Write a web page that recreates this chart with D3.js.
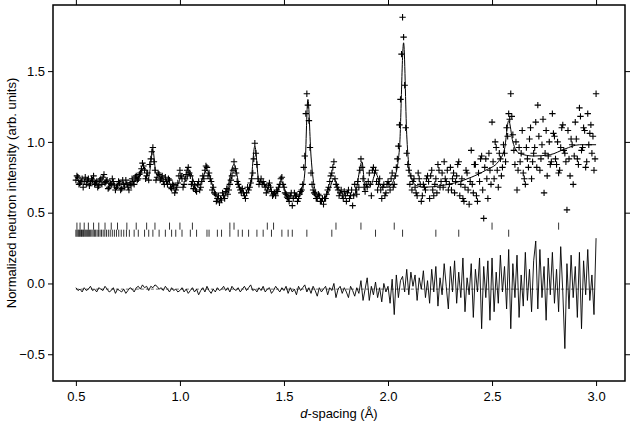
<!DOCTYPE html>
<html><head><meta charset="utf-8">
<script src="https://d3js.org/d3.v7.min.js"></script>
<style>body{margin:0;background:#fff}text{font-family:"Liberation Sans",Arial,sans-serif}</style>
</head><body><svg id="c" width="640" height="427"></svg>
<script>
const xTicks=[0.5,1.0,1.5,2.0,2.5,3.0];
const yTicks=[-0.5,0.0,0.5,1.0,1.5];
// observed, d = 0.50..3.00 step 0.01
const obsA=[0.73,0.75,0.71,0.74,0.72,0.70,0.74,0.71,0.73,0.70,
0.72,0.69,0.74,0.75,0.71,0.73,0.68,0.70,0.72,0.66,
0.69,0.71,0.67,0.70,0.73,0.68,0.71,0.74,0.70,0.76,
0.74,0.78,0.85,0.80,0.76,0.73,0.88,0.96,0.80,0.75,
0.77,0.74,0.72,0.75,0.70,0.73,0.67,0.69,0.66,0.71,
0.80,0.74,0.70,0.77,0.82,0.76,0.72,0.69,0.65,0.72,
0.68,0.76,0.80,0.82,0.78,0.72,0.68,0.63,0.60,0.57,
0.59,0.62,0.65,0.63,0.70,0.76,0.86,0.78,0.70,0.66,
0.67,0.62,0.64,0.66,0.71,0.78,0.99,0.84,0.70,0.74,
0.72,0.68,0.66,0.71,0.65,0.63,0.62,0.65,0.70,0.75,
0.68,0.63,0.60,0.62,0.55,0.64,0.62,0.60,0.65,0.70,
0.90,1.34,1.15,0.78,0.66,0.63,0.60,0.62,0.58,0.56,
0.60,0.66,0.72,0.78,0.86,0.70,0.66,0.64,0.62,0.65,
0.58,0.66,0.62,0.55,0.70,0.63,0.68,0.88,0.74,0.65,
0.68,0.78,0.62,0.82,0.80,0.66,0.74,0.60,0.70,0.64,
0.72,0.66,0.78,0.70,0.82,0.97,1.30,1.88,1.40,0.92,
0.80,0.76,0.72,0.68,0.62,0.74,0.58,0.70,0.66,0.76,
0.60,0.80,0.62,0.74,0.84,0.68,0.78,0.86,0.72,0.66,
0.82,0.74,0.64,0.76,0.86,0.70,0.60,0.68,0.78,0.56,
0.94,0.64,0.84,0.58,0.72,0.90,0.46,0.88,0.60,0.80,
1.14,0.74,0.96,0.68,0.88,0.82,0.92,1.10,1.20,1.34,
1.05,0.84,0.66,0.96,0.92,0.78,0.70,0.88,1.02,0.74,
0.92,1.14,1.26,0.80,0.98,0.64,1.08,0.90,0.84,1.20,
1.04,0.84,0.78,0.96,1.12,0.92,0.52,0.88,1.02,0.70,
1.14,0.88,1.24,0.94,1.10,0.82,1.20,1.06,0.92,0.80,
1.34];
// observed, d = 0.505..2.095 step 0.01
const obsC=[0.76,0.70,0.72,0.68,0.75,0.73,0.69,0.74,0.76,0.71,
0.68,0.73,0.70,0.77,0.72,0.67,0.71,0.74,0.69,0.68,
0.72,0.66,0.73,0.68,0.70,0.66,0.69,0.72,0.75,0.73,
0.77,0.81,0.83,0.74,0.78,0.84,0.93,0.86,0.73,0.78,
0.73,0.76,0.70,0.72,0.74,0.68,0.70,0.64,0.68,0.76,
0.76,0.68,0.74,0.80,0.78,0.70,0.67,0.66,0.70,0.66,
0.72,0.74,0.83,0.76,0.74,0.66,0.64,0.58,0.62,0.60,
0.64,0.60,0.67,0.66,0.73,0.80,0.81,0.72,0.68,0.64,
0.64,0.60,0.68,0.68,0.74,0.88,0.92,0.74,0.72,0.70,
0.70,0.64,0.69,0.68,0.62,0.64,0.66,0.68,0.74,0.70,
0.64,0.61,0.58,0.64,0.60,0.62,0.58,0.63,0.66,0.82,
1.20,1.26,0.96,0.70,0.64,0.60,0.63,0.58,0.60,0.60,
0.63,0.68,0.76,0.82,0.74,0.68,0.62,0.66,0.60,0.62,
0.64,0.60,0.66,0.62,0.66,0.72,0.80,0.82,0.68,0.70,
0.72,0.70,0.80,0.78,0.72,0.70,0.66,0.68,0.62,0.70,
0.70,0.74,0.68,0.76,0.88,1.12,1.62,1.74,1.10,0.84];
// observed, d = 2.105..2.995 step 0.01
const obsB=[0.70,0.66,0.74,0.64,0.78,0.70,0.62,0.68,0.74,0.72,
0.76,0.66,0.70,0.64,0.80,0.72,0.68,0.74,0.80,0.70,
0.66,0.78,0.72,0.84,0.62,0.74,0.58,0.80,0.66,0.72,
0.70,0.84,0.62,0.78,0.88,0.66,0.82,0.74,0.92,0.70,
0.86,1.00,0.80,0.92,0.76,0.98,0.86,1.04,1.16,1.18,
0.94,1.00,0.80,0.86,1.08,0.74,0.96,0.82,1.10,0.86,
0.96,0.82,1.04,0.88,1.16,0.92,0.76,1.00,0.86,1.06,
0.88,1.00,0.80,1.10,0.94,0.86,1.08,0.76,0.98,0.90,
1.02,0.84,1.18,0.96,1.08,0.86,0.98,1.12,1.04,0.88];
// calculated curve [d, intensity]
const calc=[[0.50,0.73],[0.55,0.72],[0.60,0.72],[0.65,0.71],[0.70,0.70],[0.75,0.71],[0.80,0.74],[0.83,0.82],[0.85,0.76],[0.87,0.94],[0.885,0.78],[0.92,0.74],[0.96,0.70],[0.99,0.70],[1.01,0.78],[1.03,0.72],[1.045,0.80],[1.07,0.71],[1.09,0.69],[1.13,0.80],[1.16,0.68],[1.19,0.59],[1.22,0.63],[1.26,0.84],[1.29,0.67],[1.32,0.64],[1.34,0.70],[1.36,0.97],[1.38,0.72],[1.40,0.71],[1.43,0.66],[1.46,0.63],[1.49,0.72],[1.51,0.64],[1.54,0.61],[1.58,0.62],[1.60,0.78],[1.615,1.30],[1.63,0.90],[1.65,0.66],[1.68,0.60],[1.71,0.63],[1.74,0.74],[1.77,0.65],[1.80,0.62],[1.84,0.63],[1.875,0.86],[1.89,0.68],[1.92,0.70],[1.94,0.78],[1.97,0.68],[2.00,0.68],[2.03,0.74],[2.055,0.95],[2.075,1.70],[2.09,1.05],[2.11,0.75],[2.14,0.69],[2.18,0.68],[2.25,0.69],[2.32,0.71],[2.40,0.75],[2.47,0.80],[2.53,0.86],[2.56,0.95],[2.58,1.15],[2.60,1.00],[2.63,0.92],[2.70,0.90],[2.78,0.91],[2.85,0.95],[2.92,0.98],[3.00,0.98]];
// difference curve, d = 0.50..3.00 step 0.01
const diff=[-0.03,-0.05,-0.04,-0.06,-0.03,-0.05,-0.04,-0.02,-0.05,-0.04,
-0.06,-0.03,-0.04,-0.05,-0.02,-0.04,-0.06,-0.05,-0.03,-0.07,
-0.04,-0.05,-0.06,-0.04,-0.07,-0.05,-0.03,-0.04,-0.06,-0.03,
-0.02,-0.04,-0.01,-0.03,-0.02,-0.05,-0.02,-0.03,-0.01,-0.02,
-0.04,-0.03,-0.05,-0.02,-0.04,-0.06,-0.03,-0.05,-0.04,-0.06,
-0.05,-0.03,-0.06,-0.04,-0.07,-0.05,-0.03,-0.06,-0.04,-0.08,
-0.05,-0.03,-0.06,-0.02,-0.05,-0.07,-0.04,-0.06,-0.03,-0.05,
-0.04,-0.02,-0.05,-0.03,-0.06,-0.02,-0.04,-0.05,-0.03,-0.06,
-0.04,-0.02,-0.05,-0.03,-0.01,-0.05,-0.04,-0.06,-0.03,-0.05,
-0.02,-0.06,-0.04,-0.03,-0.07,-0.05,-0.02,-0.04,-0.06,-0.03,
-0.05,-0.02,-0.07,-0.03,-0.06,-0.04,-0.08,-0.02,-0.05,-0.03,
-0.01,-0.06,-0.03,-0.07,-0.02,-0.05,-0.09,-0.03,-0.06,-0.04,
-0.02,-0.08,-0.03,-0.05,0.00,-0.10,-0.04,-0.02,-0.07,-0.03,
-0.06,-0.10,-0.02,-0.05,-0.09,-0.03,-0.07,0.02,-0.12,-0.04,
0.04,-0.12,-0.02,-0.08,0.01,-0.10,-0.03,-0.13,0.00,-0.06,
-0.02,-0.14,0.03,-0.22,0.06,-0.10,0.02,0.05,-0.06,0.10,
-0.08,0.08,-0.02,0.06,-0.12,0.04,-0.04,0.09,-0.10,0.02,
-0.14,0.10,-0.06,0.12,-0.16,0.04,-0.08,0.14,-0.02,-0.18,
0.12,-0.06,0.16,-0.14,0.08,-0.10,0.18,-0.20,0.04,-0.08,
0.14,-0.24,0.10,-0.06,0.18,-0.32,0.12,-0.10,0.16,-0.26,
0.18,-0.20,0.08,-0.14,0.20,-0.06,0.12,-0.18,0.24,-0.32,
0.14,-0.10,0.20,-0.24,0.06,-0.16,0.22,-0.12,0.10,-0.20,
0.16,0.30,-0.18,0.24,-0.10,0.12,-0.26,0.18,-0.08,0.22,
-0.14,0.10,-0.20,0.26,-0.06,-0.46,0.14,-0.18,0.20,-0.10,
0.12,-0.24,0.22,-0.32,0.16,-0.08,0.24,-0.12,0.06,-0.22,
0.32];
const diffBase=-0.04;
const reflUpper=[0.505,0.52,0.54,0.56,0.585,0.61,0.64,0.67,0.70,0.745,0.79,0.84,0.88,0.95,1.00,1.06,1.24,1.26,1.42,1.45,1.75,1.87,2.03,2.50,2.82];
const reflLower=[0.500,0.505,0.510,0.514,0.518,0.523,0.527,0.531,0.536,0.540,0.545,0.550,0.555,0.560,0.565,0.571,0.577,0.583,0.589,0.595,0.602,0.609,0.616,0.623,0.631,0.639,0.647,0.656,0.665,0.675,0.685,0.695,0.706,0.718,0.730,0.743,0.757,0.78,0.80,0.83,0.85,0.87,0.90,0.93,0.96,0.98,1.01,1.05,1.08,1.13,1.14,1.18,1.20,1.24,1.28,1.30,1.33,1.37,1.40,1.44,1.49,1.52,1.54,1.61,1.73,1.94,2.07,2.23,2.34,2.58];

const L=53,R=625,T=5,B=381;
const x=d3.scaleLinear().domain([0.39,3.139]).range([L,R]);
const y=d3.scaleLinear().domain([-0.689,1.967]).range([B,T]);
const svg=d3.select("#c");
const g=svg.append("g");
const fs="13px";
g.append("g").attr("transform",`translate(0,${B})`).call(d3.axisBottom(x).tickValues(xTicks).tickFormat(d3.format(".1f")).tickSize(5).tickSizeOuter(0)).call(a=>{a.select(".domain").remove();a.selectAll("text").style("font-size",fs).attr("dy","0.9em");});
g.append("g").attr("transform",`translate(0,${T})`).call(d3.axisTop(x).tickValues(xTicks).tickFormat("").tickSize(5).tickSizeOuter(0)).call(a=>a.select(".domain").remove());
g.append("g").attr("transform",`translate(${L},0)`).call(d3.axisLeft(y).tickValues(yTicks).tickFormat(d3.format(".1f")).tickSize(5).tickSizeOuter(0)).call(a=>{a.select(".domain").remove();a.selectAll("text").style("font-size",fs);});
g.append("g").attr("transform",`translate(${R},0)`).call(d3.axisRight(y).tickValues(yTicks).tickFormat("").tickSize(5).tickSizeOuter(0)).call(a=>a.select(".domain").remove());
g.append("rect").attr("x",L).attr("y",T).attr("width",R-L).attr("height",B-T).attr("fill","none").attr("stroke","#000").attr("stroke-width",1.5);

g.selectAll(".ru").data(reflUpper).join("line").attr("x1",d=>x(d)).attr("x2",d=>x(d)).attr("y1",y(0.43)).attr("y2",y(0.38)).attr("stroke","#000").attr("stroke-width",0.8);
g.selectAll(".rl").data(reflLower).join("line").attr("x1",d=>x(d)).attr("x2",d=>x(d)).attr("y1",y(0.38)).attr("y2",y(0.33)).attr("stroke","#000").attr("stroke-width",0.8);

g.append("line").attr("x1",x(0.5)).attr("x2",x(3.0)).attr("y1",y(diffBase)).attr("y2",y(diffBase)).attr("stroke","#000").attr("stroke-width",0.6).attr("stroke-dasharray","3,2");
g.append("path").datum(diff).attr("fill","none").attr("stroke","#000").attr("stroke-width",0.9)
 .attr("d",d3.line().x((v,i)=>x(0.5+i*0.01)).y(v=>y(v)));

const pts=obsA.map((v,i)=>[0.5+i*0.01,v]).concat(obsC.map((v,i)=>[0.505+i*0.01,v])).concat(obsB.map((v,i)=>[2.105+i*0.01,v]));
const s=3.2;
g.append("path").attr("stroke","#000").attr("stroke-width",1.1).attr("fill","none")
 .attr("d",pts.map(p=>{const px=x(p[0]),py=y(p[1]);return `M${px-s},${py}h${2*s}M${px},${py-s}v${2*s}`;}).join(""));
g.append("path").datum(calc).attr("fill","none").attr("stroke","#000").attr("stroke-width",1)
 .attr("d",d3.line().x(d=>x(d[0])).y(d=>y(d[1])).curve(d3.curveMonotoneX));

svg.append("text").attr("transform",`translate(16,${(T+B)/2}) rotate(-90)`).attr("text-anchor","middle").style("font-size",fs).text("Normalized neutron intensity (arb. units)");
const xl=svg.append("text").attr("x",(L+R)/2).attr("y",418).attr("text-anchor","middle").style("font-size",fs);
xl.append("tspan").style("font-style","italic").text("d");
xl.append("tspan").text("-spacing (Å)");
</script></body></html>
